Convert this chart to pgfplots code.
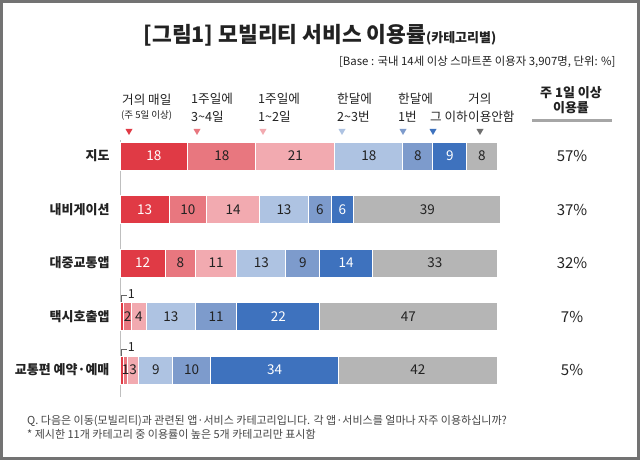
\documentclass[border=0pt]{standalone}
\usepackage{pgfplots}
\pgfplotsset{compat=1.18}
\usepackage{fontspec}
\setmainfont{Noto Sans CJK KR}
\definecolor{c1}{HTML}{E03A45}
\definecolor{c2}{HTML}{E8777F}
\definecolor{c3}{HTML}{F2AAB0}
\definecolor{c4}{HTML}{AEC3E2}
\definecolor{c5}{HTML}{7D9BCC}
\definecolor{c6}{HTML}{3E72BE}
\definecolor{c7}{HTML}{B5B5B5}
\definecolor{tri7}{HTML}{6E6E6E}
\definecolor{txt}{HTML}{222222}
\definecolor{note}{HTML}{444444}
\begin{document}
\begin{tikzpicture}[x=1pt,y=1pt]
\useasboundingbox (0,0) rectangle (640,460);
\fill[white] (0,0) rectangle (640,460);
\draw[black!55, line width=3pt] (1.5,1.5) rectangle (638.5,458.5);
\coordinate (AX) at (120,63.2);
% title
\node[anchor=base, text=txt] at (320,417) {{\bfseries\fontsize{21.5}{25}\selectfont [그림1] 모빌리티 서비스 이용률}{\bfseries\fontsize{13}{15}\selectfont (카테고리별)}};
\node[anchor=east, text=txt, font=\fontsize{11.4}{13}\selectfont] at (619,398) {[Base : 국내 14세 이상 스마트폰 이용자 3,907명, 단위: \%]};
% legend header
\begin{scope}[font=\fontsize{12.6}{15}\selectfont, text=txt]
\node[anchor=west, inner sep=0pt] at (122,360) {거의 매일};
\node[anchor=west, inner sep=0pt, font=\fontsize{9.5}{11}\selectfont] at (121,344) {(주 5일 이상)};
\node[anchor=west, inner sep=0pt] at (191,361) {1주일에};
\node[anchor=west, inner sep=0pt] at (191,343) {3\textasciitilde 4일};
\node[anchor=west, inner sep=0pt] at (258,361) {1주일에};
\node[anchor=west, inner sep=0pt] at (258,343) {1\textasciitilde 2일};
\node[anchor=west, inner sep=0pt] at (337,361) {한달에};
\node[anchor=west, inner sep=0pt] at (337,343) {2\textasciitilde 3번};
\node[anchor=west, inner sep=0pt] at (398,361) {한달에};
\node[anchor=west, inner sep=0pt] at (398,343) {1번};
\node[anchor=west, inner sep=0pt] at (430,343) {그 이하};
\node[anchor=west, inner sep=0pt] at (468,361) {거의};
\node[anchor=west, inner sep=0pt] at (468,343) {이용안함};
\end{scope}
\foreach \xx/\cc in {129/c1,197/c2,263/c3,342/c4,403/c5,433/c6,480/tri7}{
  \fill[\cc] (\xx-3.5,331) -- (\xx+3.5,331) -- (\xx,325) -- cycle;
}
% right header
\node[font=\fontsize{13}{15}\selectfont\bfseries, text=txt] at (571,367) {주 1일 이상};
\node[font=\fontsize{13}{15}\selectfont\bfseries, text=txt] at (571,352) {이용률};
\draw[black!35, line width=3pt] (532,339) -- (612,339);
% footnotes
\node[anchor=west, text=note, font=\fontsize{11}{13}\selectfont, inner sep=0pt] at (27,39) {Q. 다음은 이동(모빌리티)과 관련된 앱·서비스 카테고리입니다. 각 앱·서비스를 얼마나 자주 이용하십니까?};
\node[anchor=west, text=note, font=\fontsize{11}{13}\selectfont, inner sep=0pt] at (27,26) {* 제시한 11개 카테고리 중 이용률이 높은 5개 카테고리만 표시함};
\begin{axis}[at={(AX)}, anchor=south west, scale only axis,
  width=377pt, height=256.8pt,
  xbar stacked, bar width=28pt,
  xmin=0, xmax=100, ymin=-0.5, ymax=4.3,
  axis x line=none, axis y line*=left,
  y axis line style={draw=black!25, line width=0.8pt, -},
  ytick={0,1,2,3,4},
  yticklabels={교통편 예약·예매,택시호출앱,대중교통앱,내비게이션,지도},
  yticklabel style={font=\fontsize{13}{15}\selectfont\bfseries, text=txt, xshift=-7pt},
  major tick length=0pt,
  /pgf/number format/assume math mode=true,
  point meta=explicit,
  nodes near coords={\pgfmathfloatifflags{\pgfplotspointmeta}{0}{}{\pgfmathprintnumber{\pgfplotspointmeta}}},
  every node near coord/.append style={font=\fontsize{13.5}{15}\selectfont, text=txt},
  clip=false]
\addplot[fill=c1, draw=white, line width=1pt, every node near coord/.append style={text=white}]
  coordinates {(18,4)[18] (13,3)[13] (12,2)[12] (1,1)[0] (1,0)[0]};
\addplot[fill=c2, draw=white, line width=1pt]
  coordinates {(18,4)[18] (10,3)[10] (8,2)[8] (2,1)[2] (1,0)[1]};
\addplot[fill=c3, draw=white, line width=1pt]
  coordinates {(21,4)[21] (14,3)[14] (11,2)[11] (4,1)[4] (3,0)[3]};
\addplot[fill=c4, draw=white, line width=1pt]
  coordinates {(18,4)[18] (13,3)[13] (13,2)[13] (13,1)[13] (9,0)[9]};
\addplot[fill=c5, draw=white, line width=1pt]
  coordinates {(8,4)[8] (6,3)[6] (9,2)[9] (11,1)[11] (10,0)[10]};
\addplot[fill=c6, draw=white, line width=1pt, every node near coord/.append style={text=white}]
  coordinates {(9,4)[9] (6,3)[6] (14,2)[14] (22,1)[22] (34,0)[34]};
\addplot[fill=c7, draw=white, line width=1pt]
  coordinates {(8,4)[8] (39,3)[39] (33,2)[33] (47,1)[47] (42,0)[42]};
% leaders for the 1% segments
\draw[black!60, line width=0.6pt] (axis cs:0.3,1.262) -- (axis cs:0.3,1.393) -- (axis cs:1.9,1.393) node[anchor=west, inner sep=0.5pt, yshift=1.5pt, text=txt, font=\fontsize{12.5}{14}\selectfont]{1};
\draw[black!60, line width=0.6pt] (axis cs:0.3,0.262) -- (axis cs:0.3,0.393) -- (axis cs:1.9,0.393) node[anchor=west, inner sep=0.5pt, yshift=1.5pt, text=txt, font=\fontsize{12.5}{14}\selectfont]{1};
% share of weekly use
\node[font=\fontsize{15}{17}\selectfont, text=txt] at (axis cs:119.9,4) {57\%};
\node[font=\fontsize{15}{17}\selectfont, text=txt] at (axis cs:119.9,3) {37\%};
\node[font=\fontsize{15}{17}\selectfont, text=txt] at (axis cs:119.9,2) {32\%};
\node[font=\fontsize{15}{17}\selectfont, text=txt] at (axis cs:119.9,1) {7\%};
\node[font=\fontsize{15}{17}\selectfont, text=txt] at (axis cs:119.9,0) {5\%};
\end{axis}
\end{tikzpicture}
\end{document}
